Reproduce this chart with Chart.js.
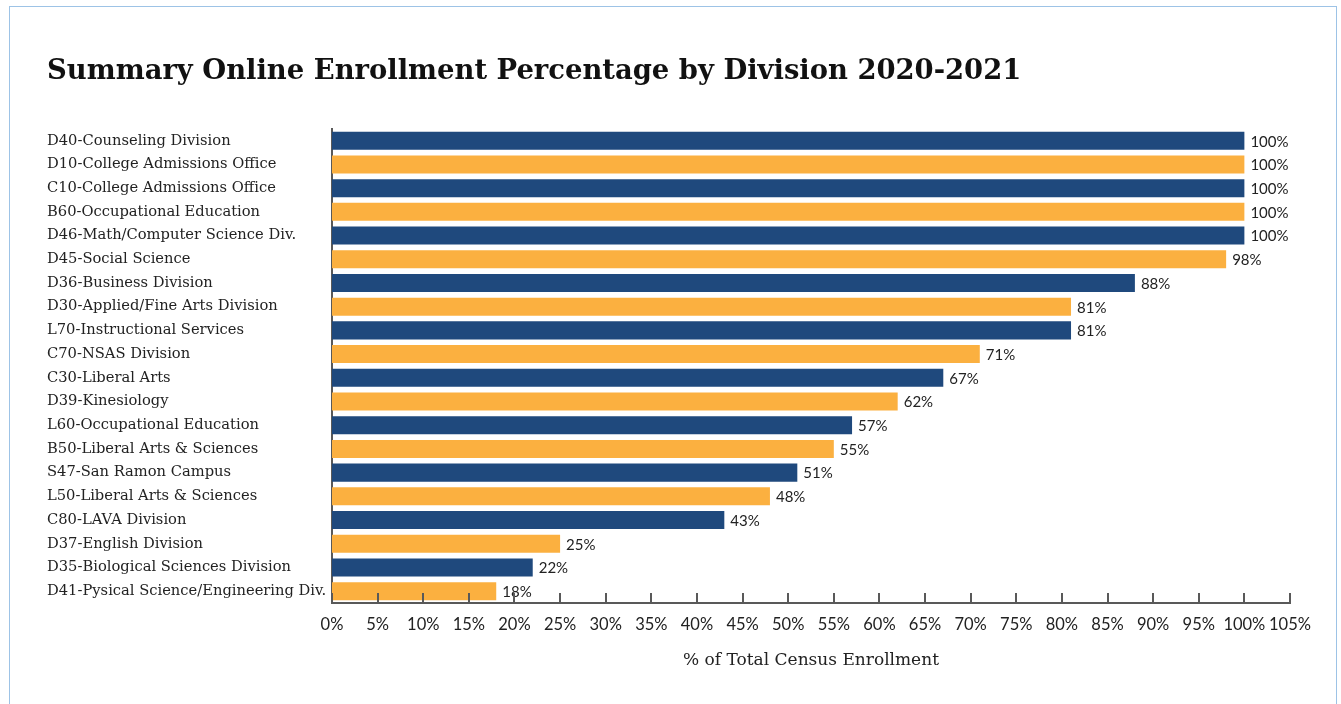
<!DOCTYPE html>
<html>
<head>
<meta charset="utf-8">
<script src="https://cdn.jsdelivr.net/npm/chart.js@4"></script>
<style>
  html, body { margin: 0; padding: 0; background: #fff; overflow: hidden; }
  #frame { position: absolute; left: 9px; top: 6px; width: 1326px; height: 710px; border: 1px solid #9dc3e6; }
  #frame canvas { position: absolute; left: 0; top: 0; }
</style>
</head>
<body>
<div id="frame"><canvas id="chart" width="1326" height="697"></canvas></div>
<script>
// Data
const divisions = [
  'D40-Counseling Division',
  'D10-College Admissions Office',
  'C10-College Admissions Office',
  'B60-Occupational Education',
  'D46-Math/Computer Science Div.',
  'D45-Social Science',
  'D36-Business Division',
  'D30-Applied/Fine Arts Division',
  'L70-Instructional Services',
  'C70-NSAS Division',
  'C30-Liberal Arts',
  'D39-Kinesiology',
  'L60-Occupational Education',
  'B50-Liberal Arts & Sciences',
  'S47-San Ramon Campus',
  'L50-Liberal Arts & Sciences',
  'C80-LAVA Division',
  'D37-English Division',
  'D35-Biological Sciences Division',
  'D41-Pysical Science/Engineering Div.'
];
const onlinePct = [100, 100, 100, 100, 100, 98, 88, 81, 81, 71, 67, 62, 57, 55, 51, 48, 43, 25, 22, 18];

const NAVY = '#1f497d';
const ORANGE = '#fbb040';
const AXIS = '#595959';

// value labels at the end of each bar
const barLabels = {
  id: 'barLabels',
  afterDatasetsDraw(chart) {
    const ctx = chart.ctx;
    const meta = chart.getDatasetMeta(0);
    ctx.save();
    ctx.font = '15px Lato';
    ctx.fillStyle = '#222';
    ctx.textAlign = 'left';
    ctx.textBaseline = 'middle';
    meta.data.forEach((bar, i) => {
      ctx.fillText(onlinePct[i] + '%', bar.x + 6, bar.y + 1);
    });
    ctx.restore();
  }
};

// tick marks pointing up into the plot, like the original
const innerTicks = {
  id: 'innerTicks',
  afterDraw(chart) {
    const x = chart.scales.x;
    const ctx = chart.ctx;
    ctx.save();
    ctx.strokeStyle = AXIS;
    ctx.lineWidth = 2;
    x.ticks.forEach((t, i) => {
      const px = Math.round(x.getPixelForTick(i));
      ctx.beginPath();
      ctx.moveTo(px, x.top);
      ctx.lineTo(px, x.top - 10);
      ctx.stroke();
    });
    ctx.restore();
  }
};

new Chart(document.getElementById('chart'), {
  type: 'bar',
  data: {
    labels: divisions,
    datasets: [{
      data: onlinePct,
      backgroundColor: onlinePct.map((v, i) => i % 2 ? ORANGE : NAVY),
      barPercentage: 0.76,
      categoryPercentage: 1.0
    }]
  },
  options: {
    indexAxis: 'y',
    responsive: false,
    animation: false,
    layout: { padding: { top: 30, left: 37, right: 46, bottom: 29 } },
    plugins: {
      legend: { display: false },
      tooltip: { enabled: false },
      title: {
        display: true,
        text: 'Summary Online Enrollment Percentage by Division 2020-2021',
        align: 'start',
        color: '#111',
        font: { family: 'DejaVu Serif', size: 27.4, weight: 'bold' },
        padding: { top: 18, bottom: 41 }
      }
    },
    scales: {
      x: {
        min: 0,
        max: 105,
        grid: { display: false, drawTicks: false },
        border: { display: true, color: AXIS, width: 2 },
        ticks: {
          stepSize: 5,
          padding: 12,
          autoSkip: false,
          maxRotation: 0,
          minRotation: 0,
          color: '#222',
          font: { family: 'Lato', size: 16.5 },
          callback: v => v + '%'
        },
        title: {
          display: true,
          text: '% of Total Census Enrollment',
          color: '#222',
          font: { family: 'DejaVu Serif', size: 17 },
          padding: { top: 4, bottom: 4 }
        },
        afterFit(scale) { scale.height = 72; }
      },
      y: {
        grid: { display: false, drawTicks: false },
        border: { display: true, color: AXIS, width: 2 },
        ticks: {
          crossAlign: 'far',
          color: '#222',
          font: { family: 'DejaVu Serif', size: 14.7 }
        },
        afterFit(scale) { scale.width = 285; }
      }
    }
  },
  plugins: [barLabels, innerTicks]
});
</script>
</body>
</html>
